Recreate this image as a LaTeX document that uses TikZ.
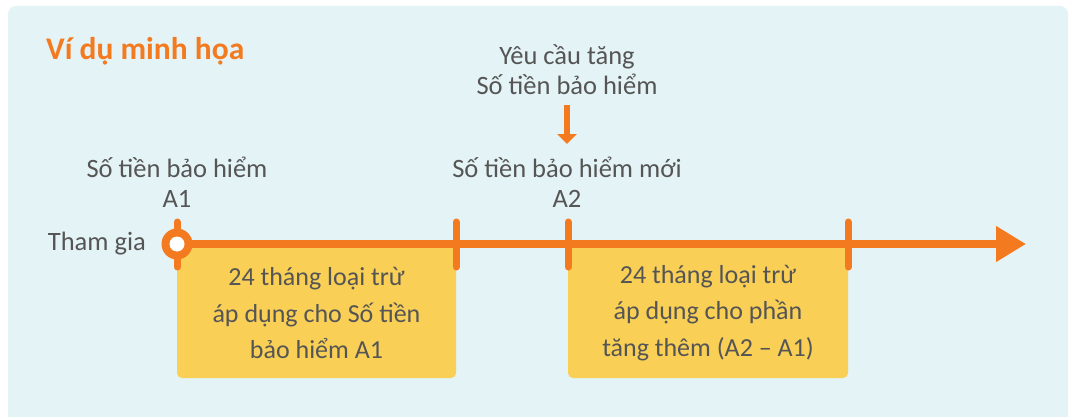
\documentclass[tikz,border=0pt]{standalone}
\usepackage{fontspec}
\setmainfont{Carlito}
\usetikzlibrary{arrows.meta}
\definecolor{panel}{HTML}{E4F3F5}
\definecolor{orng}{HTML}{F47A20}
\definecolor{ylw}{HTML}{F9CF55}
\definecolor{txt}{HTML}{555555}
\tikzset{
  lbl/.style={text=txt, font=\fontsize{26.5}{30}\selectfont, align=center, inner sep=0pt},
  boxtxt/.style={text=txt, font=\fontsize{26}{36.5}\selectfont, align=center, inner sep=0pt},
  ybox/.style={fill=ylw, rounded corners=5pt},
  tick/.style={draw=orng, line width=7pt, line cap=round},
  tline/.style={draw=orng, line width=8pt}
}
\begin{document}
\begin{tikzpicture}[x=1pt,y=-1pt]
\useasboundingbox (0,0) rectangle (1075,417);
\fill[white] (0,0) rectangle (1075,417);
\fill[panel, rounded corners=8pt] (8,6) rectangle (1068,424);
\fill[panel] (8,300) rectangle (1068,417);
% boxes
\fill[ybox] (177,244) rectangle (456,378);
\fill[ybox] (568,244) rectangle (848,378);
\node[boxtxt] (b1) at (316.5,313) {24 tháng loại trừ\\áp dụng cho Số tiền\\bảo hiểm A1};
\node[boxtxt] (b2) at (708,313) {24 tháng loại trừ\\áp dụng cho phần\\tăng thêm (A2 – A1)};
% timeline
\coordinate (t0) at (177,244);
\coordinate (t1) at (456,244);
\coordinate (t2) at (568,244);
\coordinate (t3) at (848,244);
\coordinate (tend) at (1026,244);
\draw[tline, -{Triangle[length=30pt,width=34pt]}] (t0) -- (tend);
\draw[tick] (177,222) -- (177,267);
\draw[tick] (456,222) -- (456,267);
\draw[tick] (568,222) -- (568,267);
\draw[tick] (848,222) -- (848,267);
\fill[orng] (t0) circle (15.5);
\fill[white] (t0) circle (7.5);
% labels
\node[text=orng, font=\fontsize{31.5}{34}\selectfont\bfseries, anchor=west, inner sep=0pt] (title) at (46,51) {Ví dụ minh họa};
\node[lbl, anchor=east] (tham) at (146,244) {Tham gia};
\node[lbl] (a1) at (177,182) {Số tiền bảo hiểm\\A1};
\node[lbl] (req) at (567,70) {Yêu cầu tăng\\Số tiền bảo hiểm};
\node[lbl] (a2) at (567,182) {Số tiền bảo hiểm mới\\A2};
\coordinate (ar0) at (567,105);
\coordinate (ar1) at (567,144);
\draw[draw=orng, line width=5.5pt, -{Triangle[length=10pt,width=19pt]}] (ar0) -- (ar1);
\end{tikzpicture}
\end{document}
